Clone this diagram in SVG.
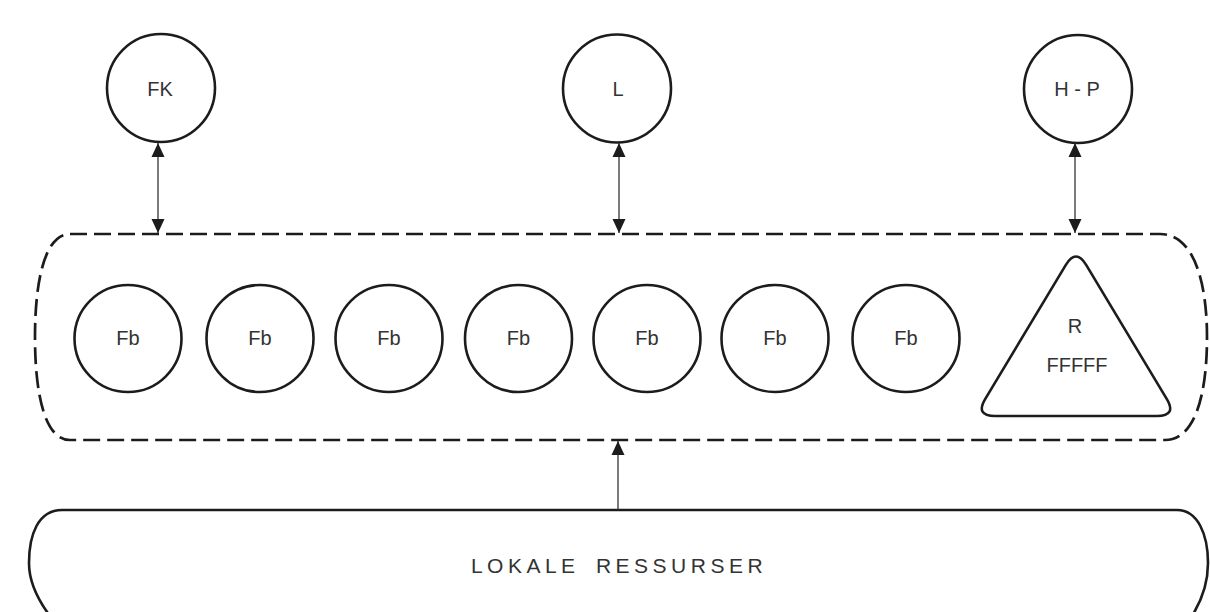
<svg xmlns="http://www.w3.org/2000/svg" width="1210" height="612" viewBox="0 0 1210 612">
<style>
.n{fill:none;stroke:#1c1c1c;stroke-width:2.6}
.t{font-family:"Liberation Sans",Arial,sans-serif;font-size:20px;fill:#333;text-anchor:middle}
.c{stroke:#333;stroke-width:1.3;fill:none}
.d{fill:none;stroke:#1c1c1c;stroke-width:2.7;stroke-dasharray:17 7}
</style>
<defs>
<marker id="ah" viewBox="0 0 14 14" refX="14" refY="7" markerWidth="14" markerHeight="14" markerUnits="userSpaceOnUse" orient="auto-start-reverse">
<path d="M0,0.5 L14,7 L0,13.5 Z" fill="#1c1c1c"/>
</marker>
</defs>
<rect width="1210" height="612" fill="#fff"/>
<g id="group-box">
<path class="d" d="M70 234 H1160 C1195 234 1207 285 1207 337 C1207 395 1195 440 1165 440 H70 C45 440 35 395 35 337 C35 280 45 234 70 234 Z"/>
</g>
<g id="FK"><circle class="n" cx="161" cy="88" r="54"/><text class="t" x="160" y="96">FK</text></g>
<g id="L"><circle class="n" cx="617" cy="88.5" r="54"/><text class="t" x="618" y="96">L</text></g>
<g id="HP"><circle class="n" cx="1078" cy="89" r="54"/><text class="t" x="1077" y="96">H - P</text></g>
<g id="fb1"><circle class="n" cx="128" cy="338.5" r="53.5"/><text class="t" x="128" y="345">Fb</text></g>
<g id="fb2"><circle class="n" cx="260" cy="338.5" r="53.5"/><text class="t" x="260" y="345">Fb</text></g>
<g id="fb3"><circle class="n" cx="389" cy="338.5" r="53.5"/><text class="t" x="389" y="345">Fb</text></g>
<g id="fb4"><circle class="n" cx="518.5" cy="338.5" r="53.5"/><text class="t" x="518.5" y="345">Fb</text></g>
<g id="fb5"><circle class="n" cx="647" cy="338.5" r="53.5"/><text class="t" x="647" y="345">Fb</text></g>
<g id="fb6"><circle class="n" cx="775" cy="338.5" r="53.5"/><text class="t" x="775" y="345">Fb</text></g>
<g id="fb7"><circle class="n" cx="906" cy="338.5" r="53.5"/><text class="t" x="906" y="345">Fb</text></g>
<g id="R">
<path class="n" d="M1065.7 265.1 Q1076 248 1086.3 265.1 L1166.7 398.9 Q1177 416 1157 416 L995 416 Q975 416 985.3 398.9 Z"/>
<text class="t" x="1075" y="333">R</text>
<text class="t" x="1077" y="372">FFFFF</text>
</g>
<g id="lokale">
<path class="n" d="M50 616 C35 596 29 580 29 563 C29 535 38 510 62 510 H1177 C1198 510 1208 535 1208 563 C1208 582 1202 600 1192 616"/>
<text class="t" x="619" y="573" style="font-size:21px;letter-spacing:4.5px;word-spacing:6px">LOKALE RESSURSER</text>
</g>
<g id="connectors">
<line class="c" x1="158" y1="143" x2="158" y2="233" marker-start="url(#ah)" marker-end="url(#ah)"/>
<line class="c" x1="619" y1="143" x2="619" y2="233" marker-start="url(#ah)" marker-end="url(#ah)"/>
<line class="c" x1="1075" y1="143" x2="1075" y2="233" marker-start="url(#ah)" marker-end="url(#ah)"/>
<line class="c" x1="618" y1="510" x2="618" y2="441" marker-end="url(#ah)"/>
</g>
</svg>
